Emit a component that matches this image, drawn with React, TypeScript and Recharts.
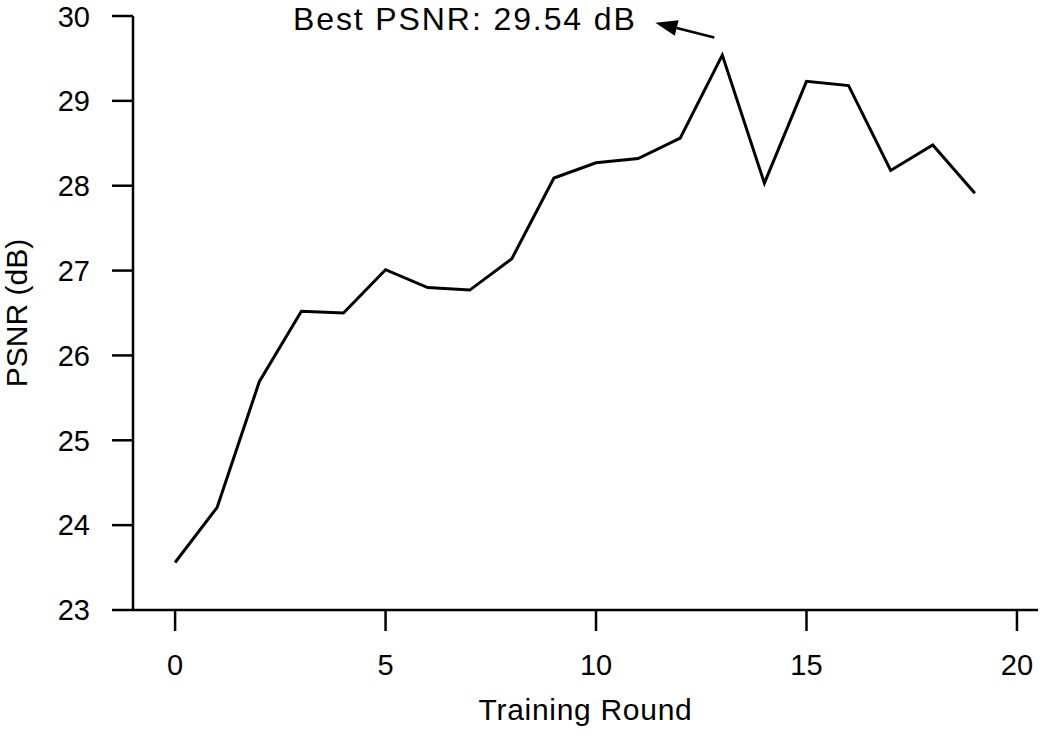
import { LineChart, Line, XAxis, YAxis, ReferenceLine, ReferenceDot } from "recharts";

const rounds = [0, 1, 2, 3, 4, 5, 6, 7, 8, 9, 10, 11, 12, 13, 14, 15, 16, 17, 18, 19];
const psnr = [
  23.56, 24.21, 25.69, 26.52, 26.5, 27.01, 26.8, 26.77, 27.14, 28.09,
  28.27, 28.32, 28.56, 29.54, 28.03, 29.23, 29.18, 28.18, 28.48, 27.91,
];
const xTicks = [0, 5, 10, 15, 20];
const yTicks = [23, 24, 25, 26, 27, 28, 29, 30];

// annotation: arrow tail -> tip, and where the text starts (data units)
const bestLabel = "Best PSNR: 29.54 dB";
const arrowTail = { x: 12.81, y: 29.746 };
const arrowTip = { x: 11.41, y: 29.921 };
const textAt = { x: 2.8, y: 29.97 };

const data = rounds.map((r, i) => ({ round: r, psnr: psnr[i] }));

const font = "'Liberation Sans', Arial, sans-serif";

const ArrowShape = (props: any) => {
  const { x1, y1, x2, y2 } = props;
  const dx = x2 - x1;
  const dy = y2 - y1;
  const len = Math.hypot(dx, dy) || 1;
  const ux = dx / len;
  const uy = dy / len;
  const headLen = 22;
  const headHalf = 8;
  const bx = x2 - ux * headLen;
  const by = y2 - uy * headLen;
  const px = -uy;
  const py = ux;
  return (
    <g>
      <line x1={x1} y1={y1} x2={bx} y2={by} stroke="#000" strokeWidth={2.5} />
      <polygon
        points={`${x2},${y2} ${bx + px * headHalf},${by + py * headHalf} ${bx - px * headHalf},${by - py * headHalf}`}
        fill="#000"
      />
    </g>
  );
};

const LabelShape = (props: any) => {
  const { cx, cy } = props;
  return (
    <text x={cx} y={cy + 11.4} fontSize={32} fill="#000" letterSpacing={1.9} textAnchor="start" fontFamily={font}>
      {bestLabel}
    </text>
  );
};

function App() {
  return (
    <div style={{ position: "absolute", left: 0, top: 0, width: 1046, height: 738, background: "#fff" }}>
      <LineChart
        width={1046}
        height={738}
        data={data}
        margin={{ top: 16, right: 8, left: 0, bottom: 0 }}
        style={{ fontFamily: font }}
      >
        <XAxis
          dataKey="round"
          type="number"
          domain={[-1, 20.5]}
          ticks={xTicks}
          allowDataOverflow
          height={128}
          tickSize={21}
          tickMargin={23}
          tick={{ fontSize: 29, fill: "#000" }}
          tickLine={{ stroke: "#000", strokeWidth: 2.5 }}
          axisLine={{ stroke: "#000", strokeWidth: 2.5 }}
          label={{ value: "Training Round", position: "insideBottom", offset: 18, fontSize: 30, fill: "#000", letterSpacing: 0.7 }}
        />
        <YAxis
          type="number"
          domain={[23, 30]}
          ticks={yTicks}
          allowDataOverflow
          width={133}
          tickSize={21}
          tickMargin={22}
          tick={{ fontSize: 29, fill: "#000" }}
          tickLine={{ stroke: "#000", strokeWidth: 2.5 }}
          axisLine={{ stroke: "#000", strokeWidth: 2.5 }}
          label={{
            value: "PSNR (dB)",
            angle: -90,
            position: "insideLeft",
            offset: 16,
            fontSize: 30,
            fill: "#000",
            style: { textAnchor: "middle" },
          }}
        />
        <Line
          type="linear"
          dataKey="psnr"
          stroke="#000"
          strokeWidth={3}
          dot={false}
          isAnimationActive={false}
        />
        <ReferenceLine
          segment={[arrowTail, arrowTip]}
          shape={ArrowShape}
          stroke="#000"
        />
        <ReferenceDot x={textAt.x} y={textAt.y} r={0} shape={LabelShape} />
      </LineChart>
    </div>
  );
}

export default App;
